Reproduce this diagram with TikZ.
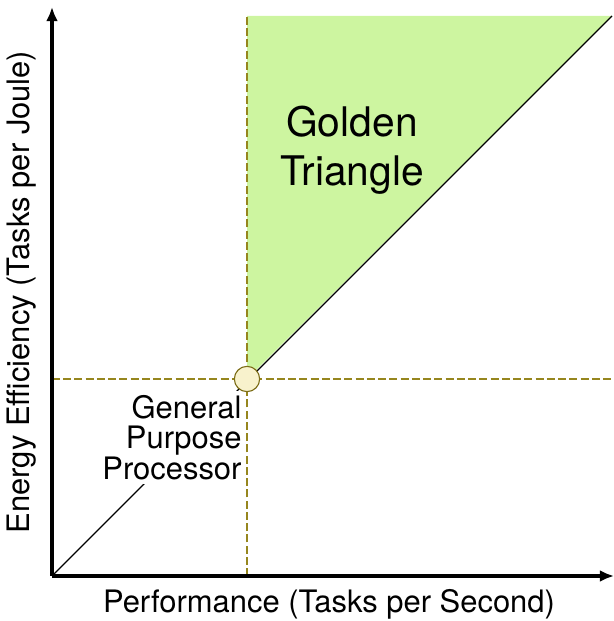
\documentclass[tikz,border=0pt]{standalone}
\usepackage{fontspec}
\setmainfont{TeX Gyre Heros}
\usetikzlibrary{arrows.meta}
\definecolor{goldgreen}{RGB}{205,245,160}
\definecolor{olivedash}{RGB}{150,134,30}
\definecolor{gppfill}{RGB}{248,242,204}
\definecolor{gppdraw}{RGB}{125,110,25}

\begin{document}
\begin{tikzpicture}[x=0.025cm,y=0.025cm,
  axis/.style={line width=2.2pt,-{Latex[length=10pt,width=8.5pt]}},
  guide/.style={draw=olivedash,line width=2.1pt,dash pattern=on 5.6pt off 2.4pt},
  gpp/.style={circle,draw=gppdraw,fill=gppfill,line width=0.8pt,minimum size=18pt,inner sep=0pt},
  lab/.style={font=\fontsize{22}{21.5}\selectfont,align=center},
  big/.style={font=\fontsize{29}{35}\selectfont,align=center}
]
  \useasboundingbox (0,0) rectangle (614,621);
  \coordinate (o) at (52,45);
  \coordinate (ytop) at (52,614);
  \coordinate (xend) at (614,45);
  \coordinate (corner) at (612,605);
  \coordinate (vtop) at (247,605);
  \coordinate (vbot) at (247,45);
  \coordinate (hl) at (52,242);
  \coordinate (hr) at (614,242);

  % golden triangle region
  \fill[goldgreen] (247,242) -- (vtop) -- (corner) -- cycle;
  \draw[line width=0.8pt] (o) -- (corner);

  % label box hides the diagonal behind it
  \node[lab,anchor=north east,align=right,fill=white,inner sep=3pt] (gpl) at (246,230)
    {General\\Purpose\\Processor};

  % guide lines through the general purpose point
  \draw[guide] (vbot) -- (vtop);
  \draw[guide] (hl) -- (hr);

  % axes
  \draw[axis] (o) -- (ytop);
  \draw[axis] (o) -- (xend);

  \node[gpp] (p) at (247,242) {};

  \node[big] (gt) at (352,471) {Golden\\Triangle};
  \node[lab] (xl) at (329,17) {Performance (Tasks per Second)};
  \node[lab,rotate=90] (yl) at (22,329) {Energy Efficiency (Tasks per Joule)};
\end{tikzpicture}
\end{document}
